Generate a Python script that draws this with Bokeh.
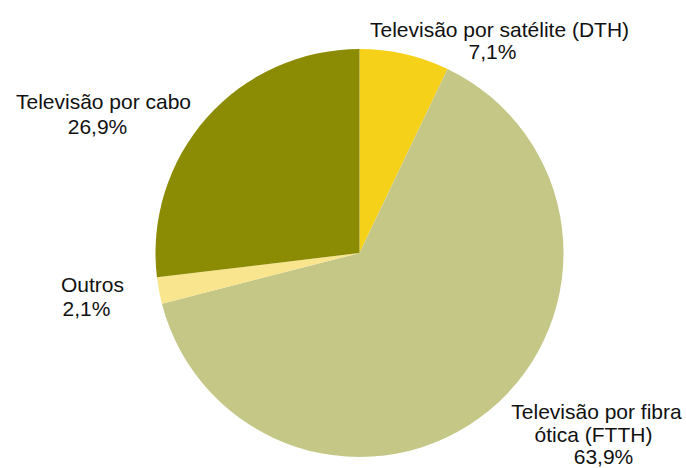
from bokeh.plotting import figure
from bokeh.models import Range1d, ColumnDataSource
from bokeh.core.properties import value
from bokeh.embed import file_html
from bokeh.resources import INLINE
import math

categories = ["Televisão por satélite (DTH)", "Televisão por fibra ótica (FTTH)", "Outros", "Televisão por cabo"]
shares = [7.1, 63.9, 2.1, 26.9]
colors = ["#F6D11A", "#C5C787", "#F9E58D", "#8C8C04"]

label_lines = [
    ["Televisão por satélite (DTH)", "7,1%"],
    ["Televisão por fibra", "ótica (FTTH)", "63,9%"],
    ["Outros", "2,1%"],
    ["Televisão por cabo", "26,9%"],
]

W, H = 686, 468
p = figure(width=W, height=H, output_backend="svg", toolbar_location=None,
           x_range=Range1d(0, W), y_range=Range1d(0, H), min_border=0)
p.axis.visible = False
p.grid.visible = False
p.outline_line_color = None

def sy(y):  # screen y -> data y
    return H - y

cx, cy, r = 359, sy(252.5), 204
total = sum(shares)
starts, ends = [], []
cum = 0.0
for s in shares:
    a0 = math.pi / 2 - 2 * math.pi * cum / total
    cum += s
    a1 = math.pi / 2 - 2 * math.pi * cum / total
    starts.append(a1)
    ends.append(a0)

src = ColumnDataSource(dict(start=starts, end=ends, color=colors, cat=categories))
p.wedge(x=cx, y=cy, radius=r, start_angle="start", end_angle="end",
        direction="anticlock", fill_color="color", line_color=None, source=src)

# label line positions (screen coords: x center, baseline y)
pos = [
    [(499, 29), (492, 51)],
    [(596, 411), (593, 434), (603, 456)],
    [(92, 284), (86, 308)],
    [(103, 101), (97, 126)],
]
xs, ys, ts = [], [], []
for lines, pp in zip(label_lines, pos):
    for t, (x, y) in zip(lines, pp):
        xs.append(x); ys.append(sy(y)); ts.append(t)
p.text(x=xs, y=ys, text=ts, text_align="center", text_baseline="alphabetic",
       text_font=value("Liberation Sans"), text_font_size="21px", text_color="#111111")

open("out.html", "w").write(file_html(p, INLINE))
